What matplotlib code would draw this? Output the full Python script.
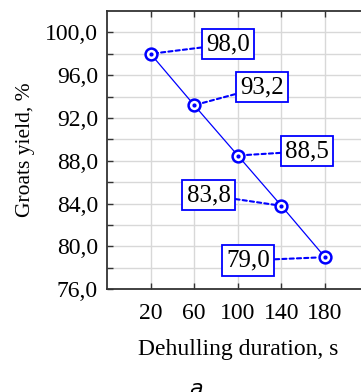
import matplotlib
matplotlib.use("Agg")
import matplotlib.pyplot as plt
import numpy as np

durations = ["20", "60", "100", "140", "180"]
yield_vals = [98.0, 93.2, 88.5, 83.8, 79.0]
label_texts = ["98,0", "93,2", "88,5", "83,8", "79,0"]
label_pos = [(2.78, 98.9), (3.55, 94.9), (4.59, 88.9), (2.33, 84.8), (3.24, 78.7)]
ytick_vals = [76, 80, 84, 88, 92, 96, 100]
ytick_labels = ["76,0", "80,0", "84,0", "88,0", "92,0", "96,0", "100,0"]

blue = "#0000ff"
serif = "Liberation Serif"

fig = plt.figure(figsize=(3.61, 3.92), dpi=100)
ax = fig.add_axes([107/361, (392-289.3)/392, 261.6/361, 278.3/392])

x = np.arange(1, len(durations) + 1)
ax.plot(x, yield_vals, color=blue, lw=0.9, zorder=3)
ax.plot(x, yield_vals, ls="none", marker="o", ms=8.5, mfc="white", mec=blue, mew=1.8, zorder=4)
ax.plot(x, yield_vals, ls="none", marker="o", ms=2, color=blue, zorder=5)

for xi, yi, t, (tx, ty) in zip(x, yield_vals, label_texts, label_pos):
    ax.annotate(t, xy=(xi, yi), xytext=(tx, ty), textcoords="data",
                ha="center", va="center", fontsize=18, family=serif,
                bbox=dict(boxstyle="square,pad=0.17", fc="white", ec=blue, lw=1.3),
                arrowprops=dict(arrowstyle="-", color=blue, lw=1.5, linestyle=(0, (2, 1.5)),
                                shrinkA=0, shrinkB=5),
                zorder=6)

ax.set_xlim(0, 6)
ax.set_ylim(76, 102)
ax.set_xticks(x)
ax.set_xticklabels(durations, family=serif, fontsize=17)
ax.set_yticks(ytick_vals)
ax.set_yticklabels(ytick_labels, family=serif, fontsize=17)
ax.set_yticks(np.arange(78, 102, 4), minor=True)
ax.grid(True, which="both", color="#d8d8d8", lw=1.0, zorder=0)
ax.set_axisbelow(True)
ax.tick_params(which="both", direction="in", top=True, right=False, length=4,
               color="#333333", width=1.0)
ax.tick_params(axis="y", pad=6.5)
ax.tick_params(axis="x", pad=10)
for s in ["left", "bottom", "top"]:
    ax.spines[s].set_color("#333333")
    ax.spines[s].set_linewidth(1.3)
ax.spines["right"].set_visible(False)

ax.set_xlabel("Dehulling duration, s", family=serif, fontsize=17, labelpad=11)
ax.set_ylabel("Groats yield, %", family=serif, fontsize=15.5, labelpad=7)

fig.text(196/361, 1 - 389/392, "a", fontsize=16, style="italic", family="DejaVu Sans",
         ha="center", va="center")

fig.savefig("out.png", dpi=100)
